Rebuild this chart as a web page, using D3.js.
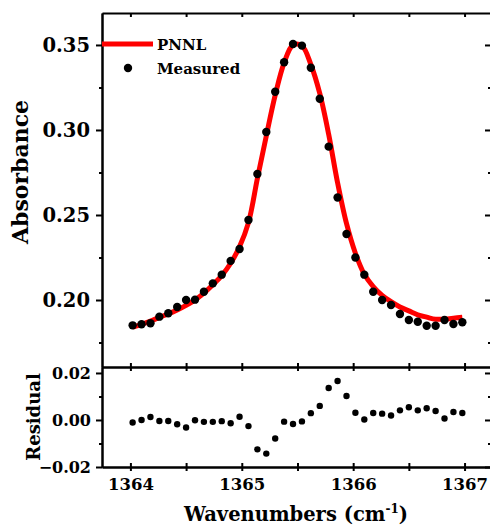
<!DOCTYPE html>
<html>
<head>
<meta charset="utf-8">
<script src="https://cdn.jsdelivr.net/npm/d3@7"></script>
<style>
  body { margin: 0; background: #fff; }
  svg { display: block; }
</style>
</head>
<body>
<script>
// wavenumber grid of the measured spectrum (cm-1)
var wavenumbers = [
  1364.02, 1364.10, 1364.18, 1364.26, 1364.34, 1364.42, 1364.50, 1364.58,
  1364.66, 1364.74, 1364.82, 1364.90, 1364.98, 1365.06, 1365.14, 1365.22,
  1365.30, 1365.38, 1365.46, 1365.54, 1365.62, 1365.70, 1365.78, 1365.86,
  1365.94, 1366.02, 1366.10, 1366.18, 1366.26, 1366.34, 1366.42, 1366.50,
  1366.58, 1366.66, 1366.74, 1366.82, 1366.90, 1366.98
];
var measured = [
  0.1851, 0.1857, 0.1863, 0.1902, 0.1922, 0.1959, 0.2000, 0.2002,
  0.2049, 0.2098, 0.2149, 0.2230, 0.2300, 0.2471, 0.2741, 0.2988,
  0.3225, 0.3398, 0.3506, 0.3496, 0.3366, 0.3184, 0.2902, 0.2603,
  0.2388, 0.2250, 0.2149, 0.2049, 0.2000, 0.1971, 0.1918, 0.1882,
  0.1872, 0.1849, 0.1849, 0.1882, 0.1859, 0.1869
];
var pnnl = [
  0.1840, 0.1857, 0.1876, 0.1898, 0.1918, 0.1941, 0.1968, 0.2001,
  0.2041, 0.2090, 0.2144, 0.2216, 0.2314, 0.2455, 0.2715, 0.2965,
  0.3205, 0.3395, 0.3500, 0.3495, 0.3385, 0.3215, 0.2975, 0.2690,
  0.2450, 0.2275, 0.2151, 0.2079, 0.2027, 0.1990, 0.1959, 0.1936,
  0.1913, 0.1899, 0.1887, 0.1888, 0.1893, 0.1899
];
var residual = [
  -0.0011, 0.0000, 0.0013, -0.0004, -0.0004, -0.0018, -0.0032, -0.0001,
  -0.0008, -0.0008, -0.0005, -0.0014, 0.0014, -0.0026, -0.0125, -0.0143,
  -0.0079, -0.0007, -0.0017, -0.0006, 0.0029, 0.0060, 0.0136, 0.0166,
  0.0102, 0.0031, 0.0002, 0.0030, 0.0027, 0.0019, 0.0041, 0.0054,
  0.0041, 0.0050, 0.0038, 0.0006, 0.0034, 0.0030
];

var xTicks = [1364, 1365, 1366, 1367];
var xTicksHalf = [1364, 1364.5, 1365, 1365.5, 1366, 1366.5, 1367];
var absTicks = [0.20, 0.25, 0.30, 0.35];
var absMinor = [0.175, 0.225, 0.275, 0.325];
var resTicks = [-0.02, 0.00, 0.02];
var resMinor = [-0.01, 0.01];

var w = 490;
var h = 527;
var font = "'DejaVu Serif', serif";

var svg = d3.select("body").append("svg").attr("width", w).attr("height", h);

var x = d3.scaleLinear().domain([1363.745, 1367.232]).range([102, 490.4]);
var yAbs = d3.scaleLinear().domain([0.1606, 0.3688]).range([367, 13]);
var yRes = d3.scaleLinear().domain([-0.02, 0.02254]).range([467, 367]);

function style(g, size) {
  g.select(".domain").attr("stroke", "#000").attr("stroke-width", 2);
  g.selectAll(".tick line").attr("stroke", "#000").attr("stroke-width", 2);
  g.selectAll("text")
    .attr("font-family", font)
    .attr("font-weight", "bold")
    .attr("font-size", size)
    .attr("fill", "#000");
}

// ---- top panel: absorbance
// left
svg.append("g").attr("transform", "translate(102,0)")
  .call(d3.axisLeft(yAbs).tickValues(absTicks).tickSizeInner(6).tickSizeOuter(0)
    .tickPadding(6).tickFormat(d3.format(".2f")))
  .call(style, "19.5px");
svg.append("g").attr("transform", "translate(102,0)")
  .call(d3.axisLeft(yAbs).tickValues(absMinor).tickSizeInner(3).tickSizeOuter(0).tickFormat(""))
  .call(style, "10px");
// right (inward)
svg.append("g").attr("transform", "translate(491,0)")
  .call(d3.axisLeft(yAbs).tickValues(absTicks).tickSizeInner(6).tickSizeOuter(0).tickFormat(""))
  .call(style, "10px");
svg.append("g").attr("transform", "translate(491,0)")
  .call(d3.axisLeft(yAbs).tickValues(absMinor).tickSizeInner(3).tickSizeOuter(0).tickFormat(""))
  .call(style, "10px");
// top (inward)
svg.append("g").attr("transform", "translate(0,13)")
  .call(d3.axisBottom(x).tickValues(xTicksHalf).tickSizeInner(4).tickSizeOuter(0).tickFormat(""))
  .call(style, "10px");

// divider between the panels, ticks on both sides
svg.append("g").attr("transform", "translate(0,367)")
  .call(d3.axisBottom(x).tickValues(xTicksHalf).tickSizeInner(4).tickSizeOuter(0).tickFormat(""))
  .call(style, "10px");
svg.append("g").attr("transform", "translate(0,367)")
  .call(d3.axisTop(x).tickValues(xTicksHalf).tickSizeInner(4).tickSizeOuter(0).tickFormat(""))
  .call(style, "10px");

// curve and points
var line = d3.line()
  .x(function (d, i) { return x(wavenumbers[i]); })
  .y(function (d) { return yAbs(d); })
  .curve(d3.curveCatmullRom.alpha(0.5));

svg.append("path")
  .datum(pnnl)
  .attr("d", line)
  .attr("fill", "none")
  .attr("stroke", "#ff0000")
  .attr("stroke-width", 5)
  .attr("stroke-linejoin", "round");

svg.append("g").selectAll("circle")
  .data(measured)
  .enter()
  .append("circle")
  .attr("cx", function (d, i) { return x(wavenumbers[i]); })
  .attr("cy", function (d) { return yAbs(d); })
  .attr("r", 4.2)
  .attr("fill", "#000");

// legend
svg.append("line")
  .attr("x1", 102).attr("x2", 153).attr("y1", 44).attr("y2", 44)
  .attr("stroke", "#ff0000").attr("stroke-width", 5);
svg.append("circle").attr("cx", 128).attr("cy", 68).attr("r", 4.2).attr("fill", "#000");
svg.append("text").attr("x", 157).attr("y", 50)
  .attr("font-family", font).attr("font-weight", "bold").attr("font-size", "15px")
  .text("PNNL");
svg.append("text").attr("x", 157).attr("y", 74)
  .attr("font-family", font).attr("font-weight", "bold").attr("font-size", "15px")
  .text("Measured");

// ---- bottom panel: residual
svg.append("g").attr("transform", "translate(102,0)")
  .call(d3.axisLeft(yRes).tickValues(resTicks).tickSizeInner(6).tickSizeOuter(0)
    .tickPadding(5).tickFormat(d3.format(".2f")))
  .call(style, "16px");
svg.append("g").attr("transform", "translate(102,0)")
  .call(d3.axisLeft(yRes).tickValues(resMinor).tickSizeInner(3).tickSizeOuter(0).tickFormat(""))
  .call(style, "10px");
svg.append("g").attr("transform", "translate(491,0)")
  .call(d3.axisLeft(yRes).tickValues(resTicks).tickSizeInner(6).tickSizeOuter(0).tickFormat(""))
  .call(style, "10px");
svg.append("g").attr("transform", "translate(491,0)")
  .call(d3.axisLeft(yRes).tickValues(resMinor).tickSizeInner(3).tickSizeOuter(0).tickFormat(""))
  .call(style, "10px");

svg.append("g").attr("transform", "translate(0,467)")
  .call(d3.axisBottom(x).tickValues(xTicksHalf).tickSizeInner(4).tickSizeOuter(0).tickFormat(""))
  .call(style, "10px");
svg.append("g").attr("transform", "translate(0,467)")
  .call(d3.axisTop(x).tickValues(xTicksHalf).tickSizeInner(4).tickSizeOuter(0).tickFormat(""))
  .call(style, "10px");
svg.append("g").attr("transform", "translate(0,467)")
  .call(d3.axisBottom(x).tickValues(xTicks).tickSize(0).tickPadding(11).tickFormat(d3.format("d")))
  .call(style, "16.5px")
  .call(function (g) { g.select(".domain").remove(); });

svg.append("g").selectAll("circle")
  .data(residual)
  .enter()
  .append("circle")
  .attr("cx", function (d, i) { return x(wavenumbers[i]); })
  .attr("cy", function (d) { return yRes(d); })
  .attr("r", 3.2)
  .attr("fill", "#000");

// axis titles
svg.append("text")
  .attr("transform", "translate(28,172) rotate(-90)")
  .attr("text-anchor", "middle")
  .attr("font-family", font).attr("font-weight", "bold").attr("font-size", "22px")
  .text("Absorbance");
svg.append("text")
  .attr("transform", "translate(40,417) rotate(-90)")
  .attr("text-anchor", "middle")
  .attr("font-family", font).attr("font-weight", "bold").attr("font-size", "18px")
  .text("Residual");
var xt = svg.append("text")
  .attr("x", 296).attr("y", 521)
  .attr("text-anchor", "middle")
  .attr("font-family", font).attr("font-weight", "bold").attr("font-size", "19.5px");
xt.append("tspan").text("Wavenumbers (cm");
xt.append("tspan").attr("font-size", "12px").attr("dy", "-8").text("-1");
xt.append("tspan").attr("dy", "8").text(")");
</script>
</body>
</html>
